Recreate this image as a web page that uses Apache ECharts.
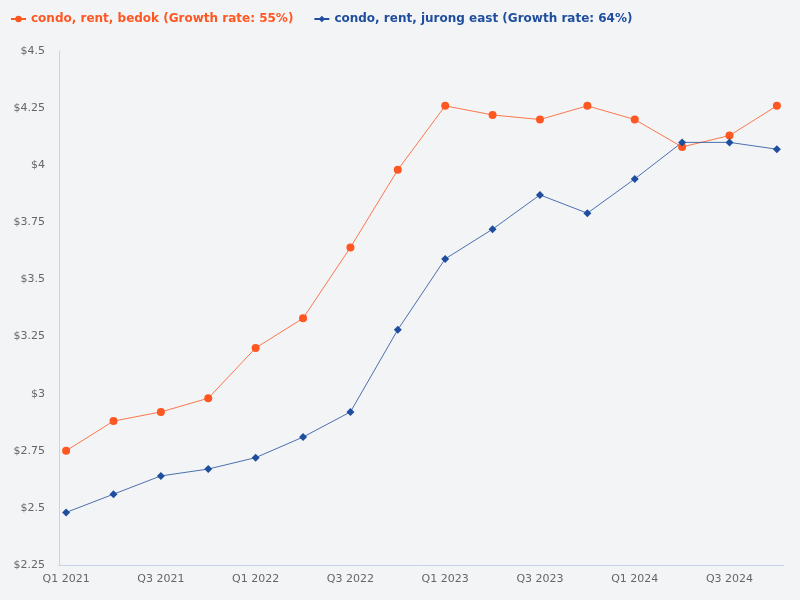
<!DOCTYPE html>
<html>
<head>
  <meta charset="utf-8">
  <title>Condo rent</title>
  <style>
    html, body { margin: 0; padding: 0; background: #f3f4f6; }
    #chart { width: 800px; height: 600px; }
  </style>
  <script src="https://cdn.jsdelivr.net/npm/echarts@6/dist/echarts.min.js"></script>
</head>
<body>
  <div id="chart"></div>
  <script>
    var quarters = ['Q1 2021', 'Q2 2021', 'Q3 2021', 'Q4 2021',
                    'Q1 2022', 'Q2 2022', 'Q3 2022', 'Q4 2022',
                    'Q1 2023', 'Q2 2023', 'Q3 2023', 'Q4 2023',
                    'Q1 2024', 'Q2 2024', 'Q3 2024', 'Q4 2024'];
    var bedok = [2.75, 2.88, 2.92, 2.98, 3.20, 3.33, 3.64, 3.98,
                 4.26, 4.22, 4.20, 4.26, 4.20, 4.08, 4.13, 4.26];
    var jurongEast = [2.48, 2.56, 2.64, 2.67, 2.72, 2.81, 2.92, 3.28,
                      3.59, 3.72, 3.87, 3.79, 3.94, 4.10, 4.10, 4.07];
    var bedokName = 'condo, rent, bedok (Growth rate: 55%)';
    var jurongName = 'condo, rent, jurong east (Growth rate: 64%)';
    var labelTicks = [0, 2, 4, 6, 8, 10, 12, 14];

    var orange = '#ff5722';
    var blue = '#1f4e9e';

    function pairs(arr) {
      return arr.map(function (v, i) { return [i, v]; });
    }

    var chart = echarts.init(document.getElementById('chart'));
    chart.setOption({
      backgroundColor: '#f3f4f6',
      textStyle: { fontFamily: 'DejaVu Sans' },
      legend: {
        left: 5,
        top: 8,
        itemWidth: 15,
        itemHeight: 8,
        itemGap: 20,
        data: [
          { name: bedokName, textStyle: { color: orange } },
          { name: jurongName, textStyle: { color: blue } }
        ],
        textStyle: { fontSize: 12, fontWeight: 'bold', fontFamily: 'DejaVu Sans' }
      },
      grid: { left: 59, right: 16, top: 51, bottom: 35 },
      xAxis: {
        type: 'value',
        min: -0.15,
        max: 15.15,
        splitLine: { show: false },
        axisTick: { show: false },
        axisLine: { lineStyle: { color: '#c5d3e8' } },
        axisLabel: {
          customValues: labelTicks,
          color: '#666',
          fontSize: 11,
          margin: 9,
          formatter: function (v) { return quarters[Math.round(v)] || ''; }
        }
      },
      yAxis: {
        type: 'value',
        min: 2.25,
        max: 4.5,
        interval: 0.25,
        splitLine: { show: false },
        axisTick: { show: false },
        axisLine: { show: true, onZero: false, lineStyle: { color: '#c5d3e8' } },
        axisLabel: {
          color: '#666',
          fontSize: 11,
          margin: 14,
          formatter: function (v) { return '$' + v; }
        }
      },
      series: [
        {
          name: bedokName,
          type: 'line',
          data: pairs(bedok),
          symbol: 'circle',
          symbolSize: 8,
          color: orange,
          lineStyle: { width: 0.8 }
        },
        {
          name: jurongName,
          type: 'line',
          data: pairs(jurongEast),
          symbol: 'diamond',
          symbolSize: 8,
          color: blue,
          lineStyle: { width: 0.8 }
        }
      ]
    });
  </script>
</body>
</html>
